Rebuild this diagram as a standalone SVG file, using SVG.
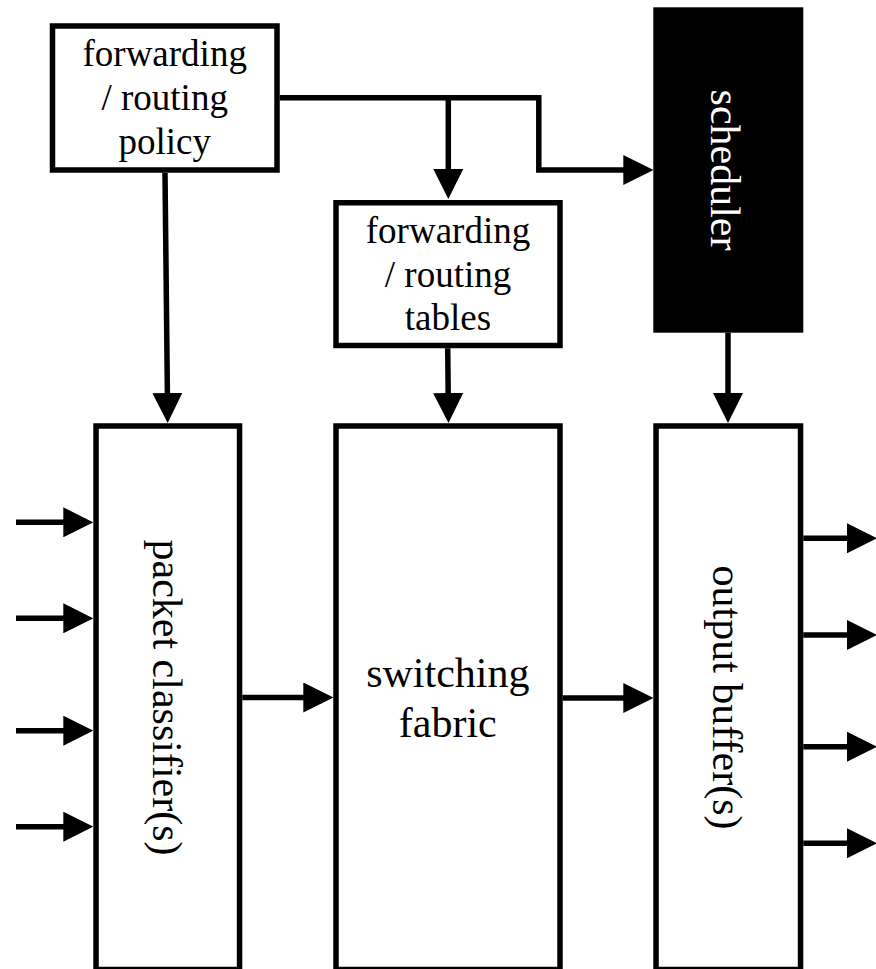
<svg xmlns="http://www.w3.org/2000/svg" width="876" height="969" viewBox="0 0 876 969">
  <style>
    .box { fill: #ffffff; stroke: #000000; stroke-width: 5.5; }
    .dark { fill: #000000; stroke: none; }
    .lbl { font-family: "Liberation Serif", "Times New Roman", serif; fill: #000000; text-anchor: middle; }
    .sm { font-size: 37px; }
    .lg { font-size: 42px; }
    .wht { fill: #ffffff; }
    .conn { fill: none; stroke: #000000; stroke-width: 5.5; marker-end: url(#ah); }
    .plain { fill: none; stroke: #000000; stroke-width: 5.5; }
  </style>
  <defs>
    <marker id="ah" markerUnits="userSpaceOnUse" markerWidth="30" markerHeight="30" viewBox="0 0 30 30" refX="2" refY="15" orient="auto">
      <path d="M0,0 L30,15 L0,30 Z" fill="#000000"/>
    </marker>
  </defs>

  <rect x="0" y="0" width="876" height="969" fill="#ffffff"/>

  <g id="policy">
    <rect class="box" x="52.5" y="26" width="224.5" height="144"/>
    <text class="lbl sm" x="164.7" y="66">forwarding</text>
    <text class="lbl sm" x="164.7" y="110">/ routing</text>
    <text class="lbl sm" x="164.7" y="154">policy</text>
  </g>

  <g id="tables">
    <rect class="box" x="336" y="202.75" width="224" height="142.75"/>
    <text class="lbl sm" x="448" y="243">forwarding</text>
    <text class="lbl sm" x="448" y="286.5">/ routing</text>
    <text class="lbl sm" x="448" y="330">tables</text>
  </g>

  <g id="scheduler">
    <rect class="dark" x="653.3" y="7.3" width="150" height="325.4"/>
    <text class="lbl lg wht" transform="translate(711,170) rotate(90)">scheduler</text>
  </g>

  <g id="classifier">
    <rect class="box" x="96.05" y="426" width="143.5" height="543.5"/>
    <text class="lbl lg" transform="translate(153,697.5) rotate(90)">packet classifier(s)</text>
  </g>

  <g id="fabric">
    <rect class="box" x="336" y="426" width="224" height="543.5"/>
    <text class="lbl lg" x="447.8" y="686.7">switching</text>
    <text class="lbl lg" x="447.8" y="736.7">fabric</text>
  </g>

  <g id="output">
    <rect class="box" x="656.05" y="426" width="144.5" height="543.5"/>
    <text class="lbl lg" transform="translate(713,697.5) rotate(90)">output buffer(s)</text>
  </g>

  <g id="connectors">
    <line class="conn" x1="165" y1="172.75" x2="167.4" y2="395"/>
    <path class="conn" d="M279.75,97.8 H538.8 V170 H625.3"/>
    <line class="conn" x1="448.3" y1="97.8" x2="448.3" y2="171"/>
    <line class="conn" x1="447.7" y1="348.25" x2="448.2" y2="395"/>
    <line class="conn" x1="728" y1="332.7" x2="728" y2="395"/>
    <line class="conn" x1="242.3" y1="697.5" x2="305.3" y2="697.5"/>
    <line class="conn" x1="562.7" y1="698" x2="625.3" y2="698"/>
    <line class="conn" x1="16" y1="522.3" x2="65.3" y2="522.3"/>
    <line class="conn" x1="16" y1="618.3" x2="65.3" y2="618.3"/>
    <line class="conn" x1="16" y1="730.7" x2="65.3" y2="730.7"/>
    <line class="conn" x1="16" y1="826.7" x2="65.3" y2="826.7"/>
    <line class="conn" x1="803.3" y1="538.3" x2="849" y2="538.3"/>
    <line class="conn" x1="803.3" y1="635" x2="849" y2="635"/>
    <line class="conn" x1="803.3" y1="746.7" x2="849" y2="746.7"/>
    <line class="conn" x1="803.3" y1="843.3" x2="849" y2="843.3"/>
  </g>
</svg>
